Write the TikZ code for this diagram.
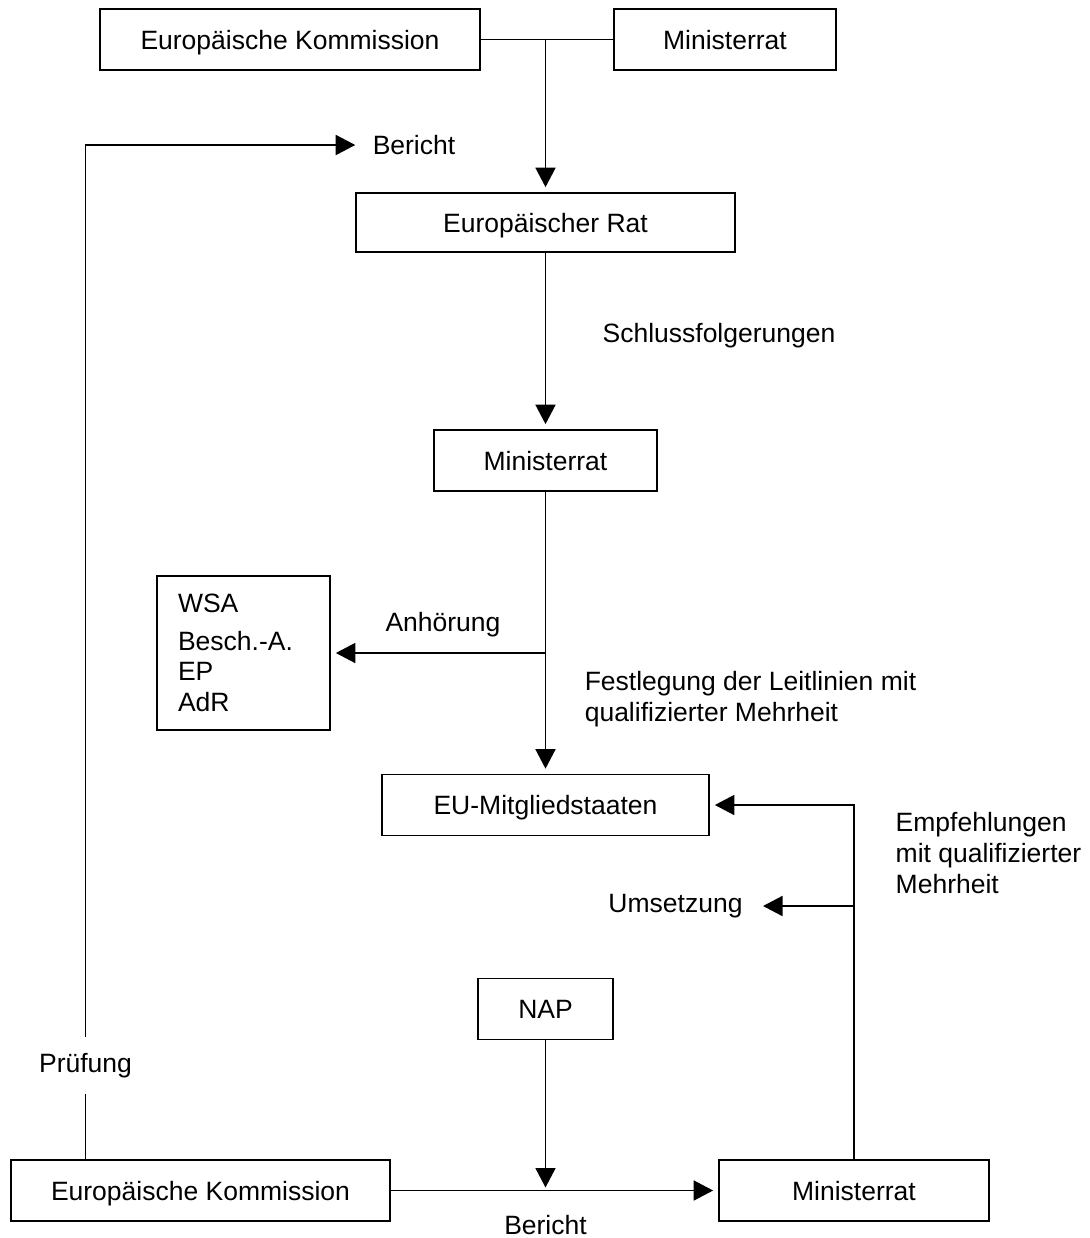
\documentclass[tikz,border=0pt]{standalone}
\usepackage{fontspec}
\setmainfont{Liberation Sans}
\usetikzlibrary{arrows.meta,positioning}

\begin{document}
\begin{tikzpicture}[>={Triangle[length=9.75pt,width=10pt]},on grid,line width=0.85pt,
  font=\fontsize{13.25pt}{15.3pt}\selectfont,
  box/.style={draw,minimum height=30.5pt,inner sep=0pt,text height=9.6pt,text depth=0pt},
  pfeil/.style={->,shorten >=2.5pt},
  txt/.style={align=left}]
\useasboundingbox (0,0) rectangle (544.5pt,-619pt);
\node[box,minimum width=189.5pt,minimum height=29.5pt] (rat) at (272.75pt,-111.25pt) {Europäischer Rat};
\node[box,minimum width=190pt] (kom_1) [above left=91.5pt and 127.75pt of rat] {Europäische Kommission};
\node[box,minimum width=111pt] (mr_1) [above right=91.5pt and 89.75pt of rat] {Ministerrat};
\node[box,minimum width=111.5pt] (mr_2) [below=119pt of rat] {Ministerrat};
\node[box,minimum width=86.5pt,minimum height=77pt,text height=,text depth=,text width=65.5pt,inner xsep=10.5pt,txt] (gremien) [below left=96.25pt and 151pt of mr_2] {WSA\\[3.5pt]Besch.-A.\\EP\\AdR};
\node[box,minimum width=163.5pt] (staaten) [below=172.25pt of mr_2] {EU-Mitgliedstaaten};
\node[box,minimum width=67.5pt] (nap) [below=102pt of staaten] {NAP};
\node[box,minimum width=189.5pt] (kom_2) [below left=90.75pt and 172.5pt of nap] {Europäische Kommission};
\node[box,minimum width=135pt] (mr_3) [below right=90.75pt and 154.25pt of nap] {Ministerrat};
\node (bericht_1) [above left=38.75pt and 65.75pt of rat] {Bericht};
\node (schluss) [below right=56.75pt and 86.75pt of rat] {Schlussfolgerungen};
\node (anh) [below left=82.25pt and 51.25pt of mr_2] {Anhörung};
\node[txt] (festl) [below right=119.25pt and 102.5pt of mr_2] {Festlegung der Leitlinien mit\\qualifizierter Mehrheit};
\node[txt] (empf) [above right=168.75pt and 67.25pt of mr_3] {Empfehlungen\\mit qualifizierter\\Mehrheit};
\node (umsetz) [below right=50.5pt and 65pt of staaten] {Umsetzung};
\node[inner sep=0pt,minimum height=27.5pt] (pruef) [above left=62.5pt and 57.5pt of kom_2] {Prüfung};
\node (bericht_2) [below=108pt of nap] {Bericht};
\coordinate (knoten) at (kom_1.east -| rat.north);
\draw (kom_1) -- (mr_1);
\path[pfeil]
(knoten) edge (rat)
(rat) edge (mr_2)
(mr_2) edge (staaten)
(gremien -| mr_2) edge (gremien)
(kom_2) edge (mr_3)
(nap) edge [shorten >=1.5pt] (nap |- kom_2);
\draw[pfeil] (mr_3) |- (staaten);
\draw[->,shorten >=6.5pt] (umsetz -| mr_3) -- (umsetz);
\draw (pruef.south) -- (pruef.south |- kom_2.north);
\draw[->,shorten >=5pt] (pruef.north) |- (bericht_1);
\end{tikzpicture}
\end{document}
